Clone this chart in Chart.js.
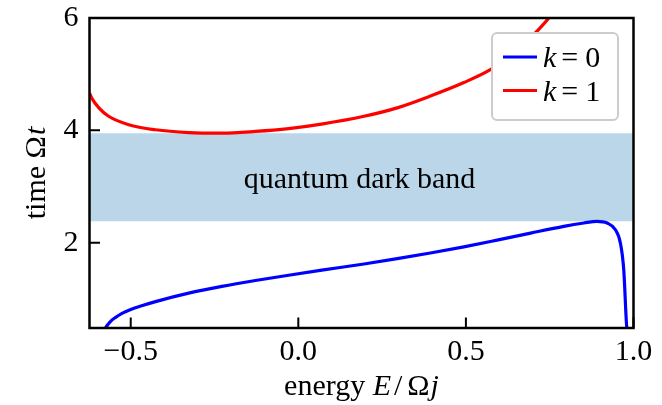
<!DOCTYPE html>
<html>
<head>
<meta charset="utf-8">
<script src="https://cdn.jsdelivr.net/npm/chart.js@4.4.1/dist/chart.umd.min.js"></script>
<style>
  html, body { margin: 0; padding: 0; background: #fff; }
  canvas { display: block; }
</style>
</head>
<body>
<canvas id="chart" width="662" height="405"></canvas>
<script>
// values
const energyK0 = [-0.585, -0.578, -0.571, -0.56, -0.545, -0.526, -0.50, -0.465, -0.426, -0.327, -0.228, -0.128, -0.029, 0.070, 0.196, 0.295, 0.394, 0.494, 0.593, 0.693, 0.792, 0.852, 0.891, 0.921, 0.946, 0.961, 0.971, 0.979, 0.983];
const timeK0   = [0.36, 0.45, 0.52, 0.60, 0.67, 0.74, 0.81, 0.88, 0.95, 1.10, 1.22, 1.325, 1.42, 1.51, 1.62, 1.715, 1.815, 1.925, 2.045, 2.17, 2.29, 2.35, 2.38, 2.35, 2.23, 1.99, 1.51, 0.56, 0.30];
const energyK1 = [-0.623, -0.615, -0.595, -0.566, -0.506, -0.426, -0.327, -0.229, -0.128, -0.029, 0.069, 0.196, 0.295, 0.394, 0.494, 0.573, 0.65, 0.713, 0.747, 0.77];
const timeK1   = [4.66, 4.56, 4.40, 4.25, 4.10, 4.01, 3.96, 3.95, 3.98, 4.03, 4.11, 4.25, 4.40, 4.61, 4.85, 5.08, 5.40, 5.77, 6.00, 6.20];
const kValues = [0, 1];
const lineColors = ['#0000ff', '#ff0000'];
const darkBand = [2.38, 3.95];
const bandLabel = 'quantum dark band';
const xTicks = [-0.5, 0.0, 0.5, 1.0];
const yTicks = [2, 4, 6];
const xRange = [-0.623, 1.0];
const yRange = [0.48, 6.0];

const SERIF = '"Liberation Serif", "Times New Roman", serif';

function pts(xs, ys) {
  return xs.map((v, i) => ({ x: v, y: ys[i] }));
}

// draws a row of [text, italic, gapAfter] pieces starting at x
function drawPieces(ctx, pieces, x, y, size) {
  pieces.forEach(p => {
    ctx.font = (p[1] ? 'italic ' : '') + size + 'px ' + SERIF;
    ctx.fillText(p[0], x, y);
    x += ctx.measureText(p[0]).width + (p[2] || 0);
  });
}
function piecesWidth(ctx, pieces, size) {
  let w = 0;
  pieces.forEach(p => {
    ctx.font = (p[1] ? 'italic ' : '') + size + 'px ' + SERIF;
    w += ctx.measureText(p[0]).width + (p[2] || 0);
  });
  return w;
}

const decor = {
  id: 'decor',
  afterDatasetsDraw(chart) {
    const { ctx, chartArea: a, scales: { x, y } } = chart;
    ctx.save();
    ctx.fillStyle = '#000';

    // band label
    ctx.font = '30px ' + SERIF;
    ctx.textAlign = 'center';
    ctx.textBaseline = 'alphabetic';
    const bandMid = y.getPixelForValue((darkBand[0] + darkBand[1]) / 2);
    ctx.fillText(bandLabel, (a.left + a.right) / 2 - 2, bandMid + 11);

    // inward ticks, left and bottom only
    ctx.strokeStyle = '#000';
    ctx.lineWidth = 2;
    ctx.beginPath();
    x.ticks.forEach(t => {
      const px = x.getPixelForValue(t.value);
      ctx.moveTo(px, a.bottom);
      ctx.lineTo(px, a.bottom - 10.5);
    });
    y.ticks.forEach(t => {
      const py = y.getPixelForValue(t.value);
      ctx.moveTo(a.left, py);
      ctx.lineTo(a.left + 10.5, py);
    });
    ctx.stroke();

    // frame
    ctx.lineWidth = 2.5;
    ctx.strokeRect(a.left, a.top, a.right - a.left, a.bottom - a.top);

    // axis titles
    ctx.textAlign = 'left';
    const xt = [['energy ', false, 0], ['E', true, 3], ['/', false, 5], ['Ω', false, 1], ['j', true, 0]];
    const xw = piecesWidth(ctx, xt, 30);
    drawPieces(ctx, xt, (a.left + a.right) / 2 - xw / 2, 395, 30);

    const yt = [['time ', false, 0], ['Ω', false, 1], ['t', true, 0]];
    const yw = piecesWidth(ctx, yt, 30);
    ctx.save();
    ctx.translate(45, (a.top + a.bottom) / 2);
    ctx.rotate(-Math.PI / 2);
    drawPieces(ctx, yt, -yw / 2, 0, 30);
    ctx.restore();

    // legend
    const lx = 492, ly = 33, lw = 126, lh = 87;
    ctx.beginPath();
    ctx.roundRect(lx, ly, lw, lh, 5);
    ctx.fillStyle = '#ffffff';
    ctx.fill();
    ctx.strokeStyle = '#cccccc';
    ctx.lineWidth = 2;
    ctx.stroke();
    kValues.forEach((k, i) => {
      const rowY = 57 + i * 33.5;
      ctx.strokeStyle = lineColors[i];
      ctx.lineWidth = 3;
      ctx.beginPath();
      ctx.moveTo(503, rowY);
      ctx.lineTo(537, rowY);
      ctx.stroke();
      ctx.fillStyle = '#000';
      drawPieces(ctx, [['k', true, 5], ['=', false, 7], [String(k), false, 0]], 543, rowY + 10, 30);
    });

    ctx.restore();
  }
};

const bandEdge = v => [{ x: xRange[0], y: v }, { x: xRange[1], y: v }];

new Chart(document.getElementById('chart'), {
  type: 'line',
  data: {
    datasets: [
      { data: bandEdge(darkBand[0]), borderWidth: 0, pointRadius: 0, fill: false, order: 2 },
      { data: bandEdge(darkBand[1]), borderWidth: 0, pointRadius: 0, fill: '-1',
        backgroundColor: 'rgba(31,119,180,0.3)', order: 2 },
      { label: 'k = ' + kValues[0], data: pts(energyK0, timeK0), borderColor: lineColors[0],
        borderWidth: 3.2, pointRadius: 0, cubicInterpolationMode: 'monotone', fill: false, order: 0 },
      { label: 'k = ' + kValues[1], data: pts(energyK1, timeK1), borderColor: lineColors[1],
        borderWidth: 3.2, pointRadius: 0, cubicInterpolationMode: 'monotone', fill: false, order: 0 }
    ]
  },
  options: {
    responsive: false,
    animation: false,
    devicePixelRatio: 1,
    layout: { padding: { top: 18, right: 28.5, left: 0, bottom: 0 } },
    plugins: { legend: { display: false }, tooltip: { enabled: false } },
    scales: {
      x: {
        type: 'linear',
        min: xRange[0], max: xRange[1],
        afterBuildTicks: s => { s.ticks = xTicks.map(v => ({ value: v })); },
        afterFit: s => { s.height = 77; s.paddingLeft = 0; s.paddingRight = 0; },
        grid: { display: false, drawTicks: false },
        border: { display: false },
        ticks: {
          padding: 6,
          color: '#000',
          font: { family: SERIF, size: 30 },
          maxRotation: 0,
          callback: v => (v < 0 ? '−' : '') + Math.abs(v).toFixed(1)
        }
      },
      y: {
        type: 'linear',
        min: yRange[0], max: yRange[1],
        afterBuildTicks: s => { s.ticks = yTicks.map(v => ({ value: v })); },
        afterFit: s => { s.width = 89.5; s.paddingTop = 0; s.paddingBottom = 0; },
        grid: { display: false, drawTicks: false },
        border: { display: false },
        ticks: {
          padding: 11,
          color: '#000',
          font: { family: SERIF, size: 30 },
          callback: v => String(v)
        }
      }
    }
  },
  plugins: [decor]
});
</script>
</body>
</html>
